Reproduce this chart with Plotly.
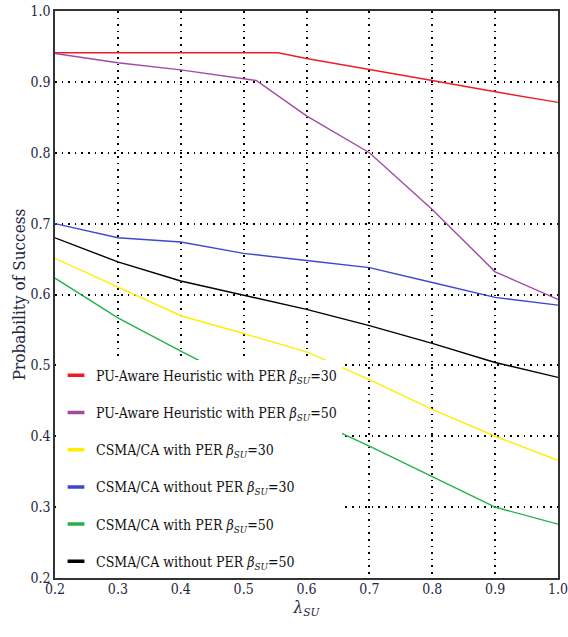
import plotly.graph_objects as go

# ---- data ----
x_red = [0.2, 0.3, 0.4, 0.5, 0.555, 0.6, 0.7, 0.8, 0.9, 1.0]
y_red = [0.941, 0.941, 0.941, 0.941, 0.941, 0.933, 0.918, 0.902, 0.886, 0.871]

x_purple = [0.2, 0.3, 0.4, 0.5, 0.52, 0.6, 0.7, 0.8, 0.9, 1.0]
y_purple = [0.940, 0.927, 0.917, 0.905, 0.902, 0.852, 0.800, 0.720, 0.632, 0.593]

x_std = [0.2, 0.3, 0.4, 0.5, 0.6, 0.7, 0.8, 0.9, 1.0]
y_yellow = [0.651, 0.611, 0.570, 0.545, 0.519, 0.480, 0.438, 0.400, 0.366]
y_blue = [0.700, 0.680, 0.674, 0.658, 0.648, 0.638, 0.617, 0.596, 0.585]

x_green = [0.2, 0.3, 0.4, 0.45, 0.5, 0.6, 0.7, 0.8, 0.9, 1.0]
y_green = [0.623, 0.567, 0.520, 0.497, 0.475, 0.427, 0.386, 0.343, 0.300, 0.276]

y_black = [0.680, 0.646, 0.619, 0.599, 0.579, 0.556, 0.531, 0.504, 0.483]

names = [
    "PU-Aware Heuristic with PER <i>β</i><sub><i>SU</i></sub>=30",
    "PU-Aware Heuristic with PER <i>β</i><sub><i>SU</i></sub>=50",
    "CSMA/CA with PER <i>β</i><sub><i>SU</i></sub>=30",
    "CSMA/CA without PER <i>β</i><sub><i>SU</i></sub>=30",
    "CSMA/CA with PER <i>β</i><sub><i>SU</i></sub>=50",
    "CSMA/CA without PER <i>β</i><sub><i>SU</i></sub>=50",
]
colors = ["#ee1c25", "#a349a4", "#ffee00", "#3f48cc", "#22b14c", "#000000"]
series = [
    (x_red, y_red),
    (x_purple, y_purple),
    (x_std, y_yellow),
    (x_std, y_blue),
    (x_green, y_green),
    (x_std, y_black),
]

tick_vals = [0.2, 0.3, 0.4, 0.5, 0.6, 0.7, 0.8, 0.9, 1.0]
tick_text = ["0.2", "0.3", "0.4", "0.5", "0.6", "0.7", "0.8", "0.9", "1.0"]

FONT = "DejaVu Serif Condensed, DejaVu Serif"
TXT = "#1f2740"

fig = go.Figure()
for i, ((xs, ys), nm, c) in enumerate(zip(series, names, colors)):
    fig.add_trace(go.Scatter(x=xs, y=ys, mode="lines", line=dict(color=c, width=1.4),
                             showlegend=False, hoverinfo="skip"))
    # legend key (short dash)
    fig.add_trace(go.Scatter(x=[None], y=[None], mode="markers", name=nm,
                             legendgroup=f"g{i}",
                             marker=dict(symbol="line-ew", size=12,
                                         line=dict(color=c, width=3.5))))

grid = dict(showgrid=True, gridcolor="black", gridwidth=1.6, griddash="1.6px,5px")

fig.update_layout(
    width=568, height=637,
    margin=dict(l=55, r=10, t=11, b=59),
    paper_bgcolor="white", plot_bgcolor="white",
    font=dict(family=FONT, color=TXT, size=14),
    xaxis=dict(range=[0.2, 1.0], tickvals=tick_vals, ticktext=tick_text,
               showline=True, linecolor="#333", linewidth=1.5, mirror=True,
               ticks="", tickfont=dict(family=FONT, size=14, color=TXT), zeroline=False,
               automargin=False, ticklabelstandoff=-3, ticklabeloverflow="allow",
               title=dict(text="<i>λ</i><sub><i>SU</i></sub>",
                          font=dict(family=FONT, size=17, color=TXT), standoff=2),
               **grid),
    yaxis=dict(range=[0.2, 1.0], tickvals=tick_vals, ticktext=tick_text,
               showline=True, linecolor="#333", linewidth=1.5, mirror=True,
               ticks="", tickfont=dict(family=FONT, size=14, color=TXT), zeroline=False,
               automargin=False, ticklabeloverflow="allow",
               title=dict(text="Probability of Success",
                          font=dict(family=FONT, size=17, color=TXT), standoff=0),
               **grid),
    legend=dict(x=0.002, xanchor="left", y=0.385, yanchor="top",
                bgcolor="white", borderwidth=0,
                font=dict(family=FONT, size=14, color="#111"),
                tracegroupgap=16, traceorder="grouped", itemwidth=30),
)

fig.write_html("out.html", config={"displayModeBar": False},
               post_script="document.body.style.margin='0';")
